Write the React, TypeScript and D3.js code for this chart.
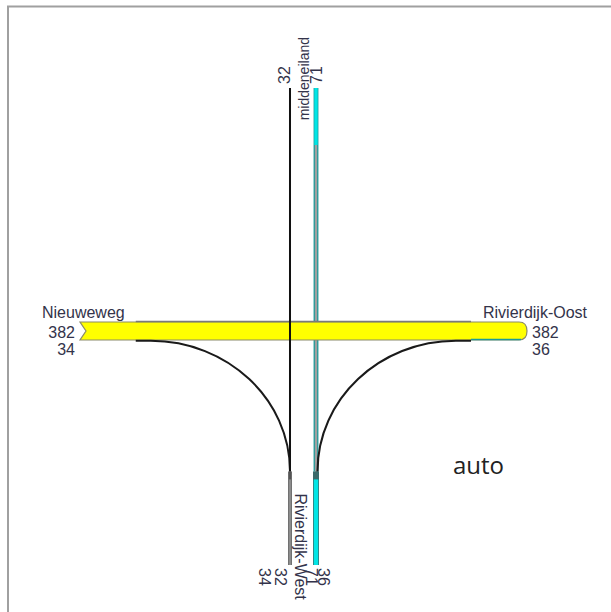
import * as d3 from 'd3';

// arm names and the counts shown at each arm end
const armNames = ['middeneiland', 'Rivierdijk-Oost', 'Rivierdijk-West', 'Nieuweweg'];
const northCounts = [32, 71];
const southCounts = [34, 32, 71, 36];
const westCounts = [382, 34];
const eastCounts = [382, 36];

// streams through the junction
const throughEastWest = 382;
const throughNorthSouth = [32, 71];
const turnsToSouth = [34, 36]; // from west, from east
const modeLabel = 'auto';

const W = 611;
const H = 612;

function App() {
  // band width per vehicle count
  const w = d3.scaleLinear().domain([0, 382]).range([0, 18]);
  // arm extents
  const xPos = d3.scaleLinear().domain([-1, 0, 1]).range([80, 303, 527]);
  const yPos = d3.scaleLinear().domain([-1, 0, 1]).range([88, 331, 565]);

  const cx = xPos(0);
  const cy = yPos(0);
  const laneGap = 13;
  const bandW = w(throughEastWest);
  const top = cy - bandW / 2;
  const bot = cy + bandW / 2;
  const xl = cx - laneGap;
  const xr = cx + laneGap;
  const xL = xPos(-1);
  const xR = xPos(1);
  const yT = yPos(-1);
  const yB = yPos(1);
  const yJoin = yPos(0.6);
  const curveStart = xPos(-0.75);
  const curveStartR = xPos(0.75);

  // yellow band: notch at the west end, round at the east end
  const band = d3.path();
  band.moveTo(xL, top);
  band.lineTo(xR - 8, top);
  band.quadraticCurveTo(xR, top, xR, cy);
  band.quadraticCurveTo(xR, bot, xR - 8, bot);
  band.lineTo(xL, bot);
  band.lineTo(xL + 6, cy);
  band.closePath();

  const k = 0.5523;
  const turnPath = (x0: number, x1: number, dir: number) => {
    const p = d3.path();
    const y0 = bot + w(turnsToSouth[0]) / 2;
    const xs = x0 + dir * 15;
    p.moveTo(x0, y0);
    p.lineTo(xs, y0);
    const rx = Math.abs(x1 - xs);
    const ry = yJoin - y0;
    p.bezierCurveTo(xs + dir * k * rx, y0, x1, yJoin - k * ry, x1, yJoin);
    return p.toString();
  };

  const font = "'Liberation Sans', Arial, sans-serif";
  const txt = '#33334a';

  return (
    <svg width={W} height={H} style={{ position: 'fixed', left: 0, top: 0, background: '#fff' }}>
      <rect x={8} y={6.5} width={700} height={700} fill="none" stroke="#a0a0a0" strokeWidth={2} />

      {/* north-south right lane (under the band) */}
      <line x1={xr} x2={xr} y1={yT} y2={yJoin} stroke="#1a9a9a" strokeWidth={w(throughNorthSouth[1]) + 1.5} />
      <line x1={xr} x2={xr} y1={yT + 57} y2={yJoin} stroke="#a0a0a0" strokeWidth={w(throughNorthSouth[1]) - 1} />
      <line x1={xr} x2={xr} y1={yT} y2={yT + 57} stroke="#00e5e5" strokeWidth={w(throughNorthSouth[1])} />
      <line x1={xr} x2={xr} y1={yJoin} y2={yB} stroke="#3a6a6a" strokeWidth={w(throughNorthSouth[1] + turnsToSouth[1]) + 1} />
      <line x1={xr} x2={xr} y1={yJoin + 8} y2={yB} stroke="#00e5e5" strokeWidth={w(throughNorthSouth[1] + turnsToSouth[1]) - 0.5} />

      {/* east-west band */}
      <path d={band.toString()} fill="#ffff00" stroke="#8a8a6a" strokeWidth={1.2} />
      <line x1={curveStart} x2={curveStartR} y1={top - 0.5} y2={top - 0.5} stroke="#7a7a7a" strokeWidth={1.5} />
      <line x1={curveStartR} x2={xR - 6} y1={bot - 0.5} y2={bot - 0.5} stroke="#1a9a9a" strokeWidth={1.5} />

      {/* turns to the south */}
      <path d={turnPath(curveStart, xl, 1)} fill="none" stroke="#1a1a1a" strokeWidth={w(turnsToSouth[0]) + 0.4} />
      <path d={turnPath(curveStartR, xr + 1.5, -1)} fill="none" stroke="#1a1a1a" strokeWidth={w(turnsToSouth[1]) + 0.4} />

      {/* north-south left lane */}
      <line x1={xl} x2={xl} y1={yT} y2={yJoin} stroke="#111" strokeWidth={w(throughNorthSouth[0]) + 0.5} />
      <line x1={xl} x2={xl} y1={yJoin} y2={yB} stroke="#555" strokeWidth={w(throughNorthSouth[0] + turnsToSouth[0]) + 0.6} />
      <line x1={xl} x2={xl} y1={yJoin + 8} y2={yB} stroke="#8c8c8c" strokeWidth={w(throughNorthSouth[0] + turnsToSouth[0]) - 0.8} />

      <g fontFamily={font} fontSize={16} fill={txt}>
        {/* west */}
        <text x={xL - 38} y={top - 4}>{armNames[3]}</text>
        {westCounts.map((v, i) => (
          <text key={'w' + i} x={xL - 5} y={bot - 2 + i * 17} textAnchor="end">{v}</text>
        ))}
        {/* east */}
        <text x={xR - 44} y={top - 4}>{armNames[1]}</text>
        {eastCounts.map((v, i) => (
          <text key={'e' + i} x={xR + 5} y={bot - 2 + i * 17}>{v}</text>
        ))}
        {/* north, reading upwards */}
        <text fontSize={14} textAnchor="end" transform={`translate(${cx + 6},${yT - 51}) rotate(-90)`}>{armNames[0]}</text>
        {northCounts.map((v, i) => (
          <text key={'n' + i} transform={`translate(${(i ? xr : xl) + (i ? 6 : 0)},${yT - 4}) rotate(-90)`}>{v}</text>
        ))}
        {/* south, reading downwards */}
        <text transform={`translate(${cx - 8},${yJoin + 22}) rotate(90)`}>{armNames[2]}</text>
        {southCounts.map((v, i) => (
          <text key={'s' + i} transform={`translate(${[cx - 44, cx - 28, cx + 3, cx + 15][i]},${yB + 3}) rotate(90)`}>{v}</text>
        ))}
      </g>

      <text x={453} y={474} fontFamily="'Open Sans', sans-serif" fontSize={24} fill="#222">{modeLabel}</text>
    </svg>
  );
}

export default App;
